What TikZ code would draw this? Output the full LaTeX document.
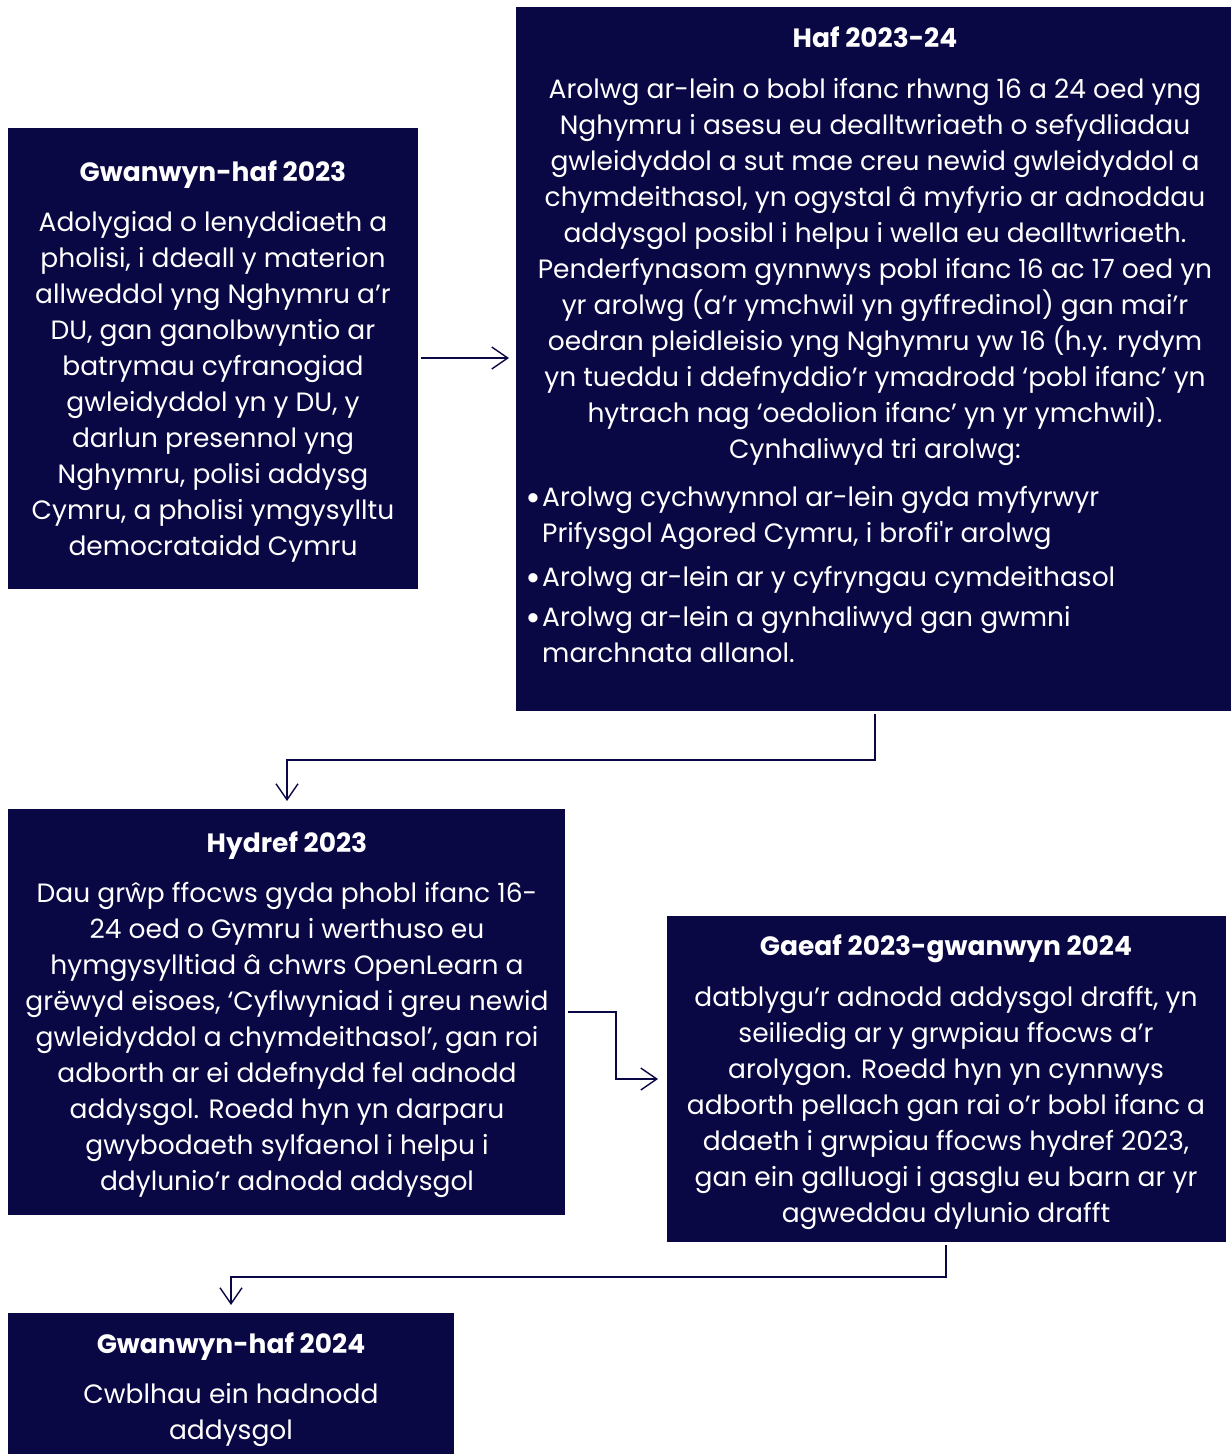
\documentclass[tikz,border=0pt]{standalone}
\usepackage{fontspec}
\setmainfont{Poppins}[Ligatures=TeXOff]
\newfontfamily\dotfont{Liberation Sans}
\usetikzlibrary{arrows.meta}
\definecolor{navy}{HTML}{0A0745}
\tikzset{
  box/.style={fill=navy, draw=none},
  ttl/.style={anchor=base, text=white, font=\fontsize{26.5}{30}\selectfont\bfseries, inner sep=0pt},
  bodytxt/.style={anchor=base, text=white, align=center, font=\fontsize{26.5}{36}\selectfont, inner sep=0pt},
  bul/.style={anchor=base west, text=white, align=left, font=\fontsize{26.5}{36}\selectfont, inner sep=0pt},
  bdot/.style={anchor=base west, text=white, font=\dotfont\fontsize{34}{36}\selectfont, inner sep=0pt},
  conn/.style={draw=navy, line width=1.4pt, -{Straight Barb[length=16pt,width=22pt,line width=1.4pt]}}
}
\begin{document}
\begin{tikzpicture}[x=1pt,y=-1pt]
\useasboundingbox (0,0) rectangle (1231,1454);
% boxes
\path[box] (8,128) rectangle (418,589);
\path[box] (516,7) rectangle (1231,711);
\path[box] (8,809) rectangle (565,1215);
\path[box] (667,916) rectangle (1226,1242);
\path[box] (8,1313) rectangle (454,1454);
\coordinate (b1e) at (421,358);
\coordinate (b2w) at (509,358);
\coordinate (b2s) at (875,714);
\coordinate (b3n) at (287,801);
\coordinate (b3e) at (568,1012);
\coordinate (b4w) at (658,1079);
\coordinate (b4s) at (946,1245);
\coordinate (b5n) at (231,1305);
% box 1
\node[ttl] (t1) at (213,181) {Gwanwyn-haf 2023};
\node[bodytxt] (p1) at (213,555) {Adolygiad o lenyddiaeth a\\pholisi, i ddeall y materion\\allweddol yng Nghymru a’r\\DU, gan ganolbwyntio ar\\batrymau cyfranogiad\\gwleidyddol yn y DU, y\\darlun presennol yng\\Nghymru, polisi addysg\\Cymru, a pholisi ymgysylltu\\democrataidd Cymru};
% box 2
\node[ttl] (t2) at (875,47) {Haf 2023-24};
\node[bodytxt] (p2) at (875,458) {Arolwg ar-lein o bobl ifanc rhwng 16 a 24 oed yng\\Nghymru i asesu eu dealltwriaeth o sefydliadau\\gwleidyddol a sut mae creu newid gwleidyddol a\\chymdeithasol, yn ogystal â myfyrio ar adnoddau\\addysgol posibl i helpu i wella eu dealltwriaeth.\\Penderfynasom gynnwys pobl ifanc 16 ac 17 oed yn\\yr arolwg (a’r ymchwil yn gyffredinol) gan mai’r\\oedran pleidleisio yng Nghymru yw 16 (h.y. rydym\\yn tueddu i ddefnyddio’r ymadrodd ‘pobl ifanc’ yn\\hytrach nag ‘oedolion ifanc’ yn yr ymchwil).\\Cynhaliwyd tri arolwg:};
\node[bdot] (d1) at (527,509) {•};
\node[bul] (s1) at (542,542) {Arolwg cychwynnol ar-lein gyda myfyrwyr\\Prifysgol Agored Cymru, i brofi'r arolwg};
\node[bdot] (d2) at (527,589) {•};
\node[bul] (s2) at (542,586) {Arolwg ar-lein ar y cyfryngau cymdeithasol};
\node[bdot] (d3) at (527,629) {•};
\node[bul] (s3) at (542,662) {Arolwg ar-lein a gynhaliwyd gan gwmni\\marchnata allanol.};
% box 3
\node[ttl] (t3) at (287,852) {Hydref 2023};
\node[bodytxt] (p3) at (287,1190) {Dau grŵp ffocws gyda phobl ifanc 16-\\24 oed o Gymru i werthuso eu\\hymgysylltiad â chwrs OpenLearn a\\grëwyd eisoes, ‘Cyflwyniad i greu newid\\gwleidyddol a chymdeithasol’, gan roi\\adborth ar ei ddefnydd fel adnodd\\addysgol. Roedd hyn yn darparu\\gwybodaeth sylfaenol i helpu i\\ddylunio’r adnodd addysgol};
% box 4
\node[ttl] (t4) at (946,955) {Gaeaf 2023-gwanwyn 2024};
\node[bodytxt] (p4) at (946,1222) {datblygu’r adnodd addysgol drafft, yn\\seiliedig ar y grwpiau ffocws a’r\\arolygon. Roedd hyn yn cynnwys\\adborth pellach gan rai o’r bobl ifanc a\\ddaeth i grwpiau ffocws hydref 2023,\\gan ein galluogi i gasglu eu barn ar yr\\agweddau dylunio drafft};
% box 5
\node[ttl] (t5) at (231,1353) {Gwanwyn-haf 2024};
\node[bodytxt] (p5) at (231,1439) {Cwblhau ein hadnodd\\addysgol};
% connectors
\draw[conn] (b1e) -- (b2w);
\draw[conn] (b2s) |- (287,760) -- (b3n);
\draw[conn] (b3e) -| (616,1079) -- (b4w);
\draw[conn] (b4s) |- (231,1277) -- (b5n);
\end{tikzpicture}
\end{document}
